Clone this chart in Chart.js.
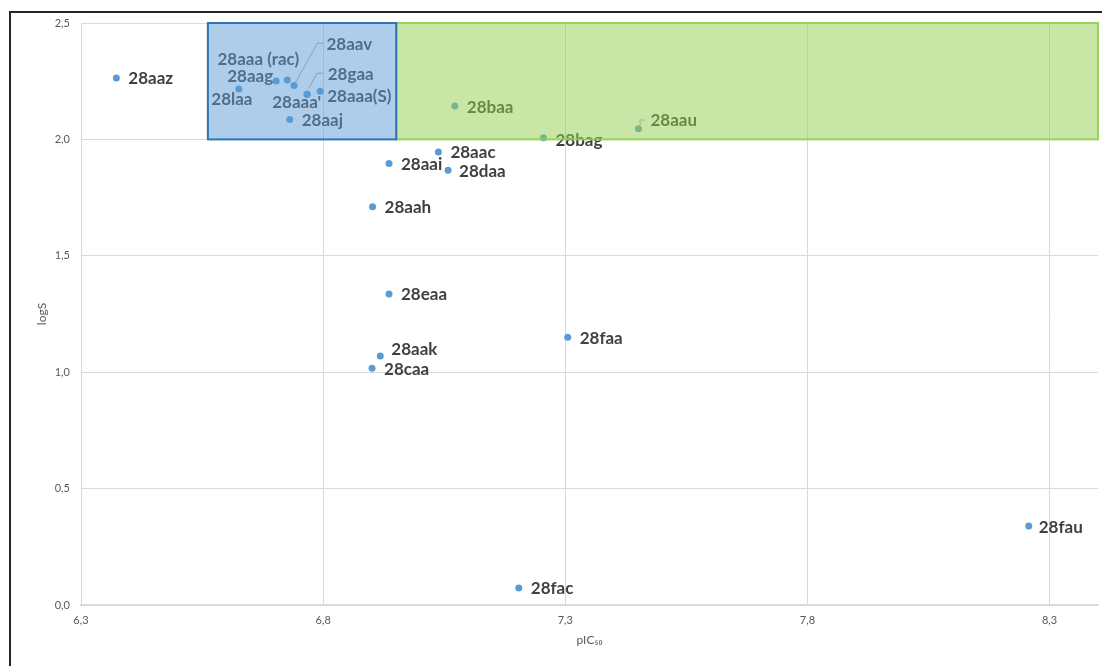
<!DOCTYPE html>
<html>
<head>
<meta charset="utf-8">
<script src="https://cdn.jsdelivr.net/npm/chart.js@4/dist/chart.umd.min.js"></script>
<style>
  html, body { margin: 0; padding: 0; background: #fff; overflow: hidden; }
  .chart-wrap { position: relative; width: 1102px; height: 666px; }
  .frame {
    position: absolute; left: 9px; top: 11px; width: 1200px; height: 1000px;
    border-left: 2px solid #262626; border-top: 2px solid #262626;
    pointer-events: none;
  }
</style>
</head>
<body>
<div class="chart-wrap">
  <canvas id="chart"></canvas>
  <div class="frame"></div>
</div>
<script>
// compounds, pIC50 (x) and logS (y)
const compounds = ['28aaz', '28laa', '28aag', '28aaa (rac)', '28aav', '28gaa', "28aaa'", '28aaa(S)', '28aaj',
  '28baa', '28bag', '28aau', '28aac', '28aai', '28daa', '28aah', '28eaa', '28faa', '28aak', '28caa', '28fau', '28fac'];
const pIC50 = [6.373, 6.626, 6.703, 6.726, 6.740, 6.767, 6.767, 6.794, 6.731,
  7.072, 7.255, 7.451, 7.038, 6.936, 7.058, 6.902, 6.936, 7.305, 6.918, 6.901, 8.257, 7.204];
const logS = [2.264, 2.216, 2.251, 2.255, 2.231, 2.194, 2.194, 2.207, 2.085,
  2.143, 2.007, 2.046, 1.946, 1.896, 1.867, 1.711, 1.336, 1.150, 1.070, 1.017, 0.339, 0.073];

const xTicks = [6.3, 6.8, 7.3, 7.8, 8.3];
const yTicks = [0, 0.5, 1.0, 1.5, 2.0, 2.5];

// highlighted regions: [xFrom, xTo], logS [from, to]
const blueRegion = [6.562, 6.951];
const greenRegion = [6.951, 8.4];
const regionLogS = [2.0, 2.5];

// label placement (pixels from the point): [dx, dy, align]
const labelOffsets = {
  '28laa': [-27.6, 10, 'left'],
  '28aag': [-3, -4, 'right'],
  '28aaa (rac)': [-29, -21, 'center'],
  '28aav': [32.4, -40.7, 'left'],
  '28gaa': [20.6, -19.3, 'left'],
  "28aaa'": [-35, 8.4, 'left'],
  '28aaa(S)': [7, 5.4, 'left'],
  '28bag': [12, 2.3, 'left'],
  '28aau': [12, -7.7, 'left'],
  '28daa': [11, 1.2, 'left'],
  '28aak': [11, -6, 'left'],
  '28fau': [10, 1, 'left']
};
const leaderLines = {
  '28aav': [[1, -2.4], [23.4, -42.4], [29, -42.4]],
  '28gaa': [[1.6, -6], [10, -21], [15.6, -21]],
  '28aau': [[1.7, -3.7], [1.7, -8.7], [6.7, -8.7]]
};

const fmt = v => Number(v).toFixed(1).replace('.', ',');

const labelsAndRegions = {
  id: 'labelsAndRegions',
  afterDatasetsDraw(chart) {
    const ctx = chart.ctx;
    const pts = chart.getDatasetMeta(0).data;
    ctx.save();
    // leader lines
    ctx.strokeStyle = '#a6a6a6';
    ctx.lineWidth = 1;
    compounds.forEach((name, i) => {
      const line = leaderLines[name];
      if (!line) return;
      const p = pts[i];
      ctx.beginPath();
      line.forEach(([dx, dy], k) => {
        if (k === 0) ctx.moveTo(p.x + dx, p.y + dy);
        else ctx.lineTo(p.x + dx, p.y + dy);
      });
      ctx.stroke();
    });
    // labels
    ctx.font = 'bold 17px Lato';
    ctx.fillStyle = '#404040';
    ctx.textBaseline = 'middle';
    compounds.forEach((name, i) => {
      const p = pts[i];
      const off = labelOffsets[name] || [12, 1, 'left'];
      ctx.textAlign = off[2];
      ctx.fillText(name, p.x + off[0], p.y + off[1]);
    });
    // translucent regions drawn over the points
    const xs = chart.scales.x, ys = chart.scales.y;
    const drawRegion = (range, fill, stroke) => {
      const x1 = xs.getPixelForValue(range[0]);
      const x2 = xs.getPixelForValue(range[1]);
      const y1 = ys.getPixelForValue(regionLogS[1]);
      const y2 = ys.getPixelForValue(regionLogS[0]);
      ctx.fillStyle = fill;
      ctx.fillRect(x1, y1, x2 - x1, y2 - y1);
      ctx.strokeStyle = stroke;
      ctx.lineWidth = 2;
      ctx.strokeRect(x1, y1, x2 - x1, y2 - y1);
    };
    drawRegion(greenRegion, 'rgba(146, 208, 80, 0.5)', 'rgba(146, 208, 80, 0.9)');
    drawRegion(blueRegion, 'rgba(91, 155, 213, 0.5)', '#2e75b6');
    ctx.restore();
  }
};

const ctx = document.getElementById('chart').getContext('2d');
new Chart(ctx, {
  type: 'scatter',
  data: {
    datasets: [{
      label: 'compounds',
      data: pIC50.map((x, i) => ({ x: x, y: logS[i] })),
      backgroundColor: '#5b9bd5',
      borderWidth: 0,
      pointRadius: 3.5,
    }],
  },
  options: {
    responsive: true,
    maintainAspectRatio: false,
    animation: false,
    events: [],
    layout: { padding: { top: 23, right: 3, left: 0, bottom: 0 } },
    plugins: {
      legend: { display: false },
      tooltip: { enabled: false },
    },
    scales: {
      x: {
        type: 'linear',
        min: 6.3,
        max: 8.4,
        afterBuildTicks: scale => { scale.ticks = xTicks.map(v => ({ value: v })); },
        afterFit: scale => { scale.height = 61; },
        grid: { color: '#d9d9d9', drawTicks: false },
        border: { color: '#d9d9d9', width: 2 },
        ticks: {
          padding: 9,
          color: '#595959',
          font: { family: 'Lato', size: 11 },
          callback: fmt,
        },
        title: {
          display: true,
          text: 'pIC₅₀',
          color: '#595959',
          font: { family: 'Lato', size: 12 },
          padding: { top: 0, bottom: 19 },
        },
      },
      y: {
        type: 'linear',
        min: 0,
        max: 2.5,
        afterBuildTicks: scale => { scale.ticks = yTicks.map(v => ({ value: v })); },
        afterFit: scale => { scale.width = 81; },
        grid: { color: '#d9d9d9', drawTicks: false },
        border: { color: '#d9d9d9' },
        ticks: {
          padding: 11,
          color: '#595959',
          font: { family: 'Lato', size: 11 },
          callback: fmt,
        },
        title: {
          display: true,
          text: 'logS',
          color: '#595959',
          font: { family: 'Lato', size: 12 },
          padding: { top: 34.5, bottom: 0 },
        },
      },
    },
  },
  plugins: [labelsAndRegions],
});
</script>
</body>
</html>
